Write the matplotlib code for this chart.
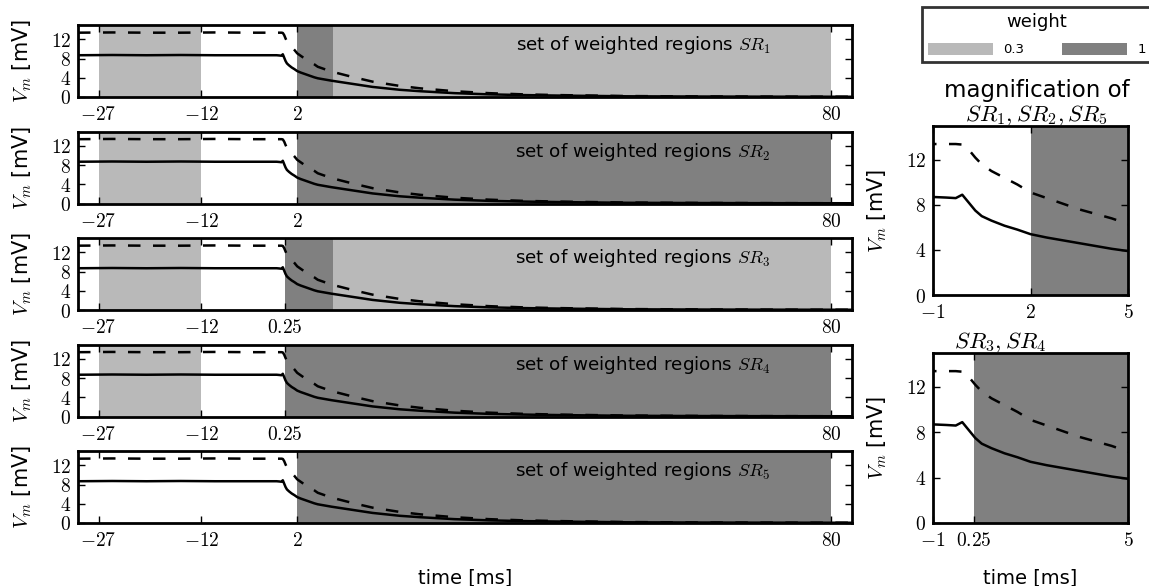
import matplotlib
matplotlib.use("Agg")
import matplotlib.pyplot as plt
from matplotlib.patches import Patch

plt.rcParams["mathtext.fontset"] = "cm"
plt.rcParams["font.family"] = ["DejaVu Sans"]
plt.rcParams["font.size"] = 13.5

# --- data -------------------------------------------------------------
# membrane potential traces (time in ms, voltage in mV)
t_ms = [-30, -25, -20, -15, -10, -5, -1, -0.6, -0.3, -0.1, 0.1, 0.3, 0.5,
        0.8, 1.2, 1.6, 2.0, 2.5, 3.0, 3.5, 4.0, 4.5, 5.0, 7, 10, 13, 17,
        20, 25, 30, 35, 40, 50, 60, 70, 83]
v_solid = [8.7, 8.75, 8.7, 8.75, 8.7, 8.7, 8.7, 8.65, 8.6, 8.9, 8.2, 7.5,
           7.0, 6.6, 6.15, 5.8, 5.4, 5.1, 4.85, 4.6, 4.35, 4.1, 3.9, 3.4,
           2.75, 2.1, 1.5, 1.2, 0.8, 0.55, 0.4, 0.3, 0.15, 0.1, 0.07, 0.05]
v_dashed = [13.4, 13.45, 13.4, 13.4, 13.45, 13.4, 13.4, 13.4, 13.4, 13.35,
            12.9, 12.2, 11.6, 11.0, 10.4, 9.8, 9.1, 8.6, 8.1, 7.6, 7.2,
            6.8, 6.3, 5.3, 4.2, 3.2, 2.3, 1.8, 1.2, 0.8, 0.55, 0.4, 0.2,
            0.12, 0.08, 0.05]

# weighted regions: (start, end, weight) for each set
region_names = ["$SR_1$", "$SR_2$", "$SR_3$", "$SR_4$", "$SR_5$"]
region_sets = [
    [(-27, -12, 0.3), (2, 7.25, 1), (7.25, 80, 0.3)],
    [(-27, -12, 0.3), (2, 80, 1)],
    [(-27, -12, 0.3), (0.25, 7.25, 1), (7.25, 80, 0.3)],
    [(-27, -12, 0.3), (0.25, 80, 1)],
    [(2, 80, 1)],
]
xtick_sets = [
    [-27, -12, 2, 80],
    [-27, -12, 2, 80],
    [-27, -12, 0.25, 80],
    [-27, -12, 0.25, 80],
    [-27, -12, 2, 80],
]
zoom_titles = ["magnification of\n$SR_1,SR_2,SR_5$", "$SR_3,SR_4$"]
zoom_title_x = [0.53, 0.345]
zoom_regions = [[(2, 5, 1)], [(0.25, 5, 1)]]
zoom_xticks = [[-1, 2, 5], [-1, 0.25, 5]]
yticks = [0, 4, 8, 12]
weights = [0.3, 1]
weight_colors = {0.3: "#b9b9b9", 1: "#808080"}


def fmt(v):
    return f"${v:g}$"


def style_axes(ax, xticks, xlim):
    ax.set_xlim(*xlim)
    ax.set_ylim(0, 15)
    ax.set_xticks(xticks)
    ax.set_xticklabels([fmt(v) for v in xticks])
    ax.set_yticks(yticks)
    ax.set_yticklabels([fmt(v) for v in yticks])
    ax.tick_params(direction="in", top=True, right=True, length=5,
                   width=1, labelsize=14)
    ax.tick_params(axis="x", pad=6)
    ax.tick_params(axis="y", pad=5)
    for sp in ax.spines.values():
        sp.set_linewidth(2)


def draw_traces(ax):
    ax.plot(t_ms, v_solid, color="black", lw=1.8, zorder=3)
    ax.plot(t_ms, v_dashed, color="black", lw=1.8, dashes=(5, 5), zorder=3)


def draw_regions(ax, regions):
    for a, b, w in regions:
        ax.axvspan(a, b, color=weight_colors[w], lw=0, zorder=1)


W, H = 1149, 586
fig = plt.figure(figsize=(W / 100, H / 100), dpi=100)

left_x0, left_w = 78 / W, (852 - 78) / W
panel_h = 72
for i in range(5):
    top = 25 + i * 106.5
    ax = fig.add_axes([left_x0, 1 - (top + panel_h) / H, left_w, panel_h / H])
    draw_regions(ax, region_sets[i])
    draw_traces(ax)
    style_axes(ax, xtick_sets[i], (-30, 83))
    ax.text(0.73, 0.72, "set of weighted regions " + region_names[i],
            transform=ax.transAxes, ha="center", va="center", fontsize=13.2,
            zorder=4)
    ax.set_ylabel("$V_m$ [mV]", fontsize=15, labelpad=12)
    if i == 4:
        ax.set_xlabel("time [ms]", fontsize=14, labelpad=13)

zoom_boxes = [(126, 295), (353, 523)]
for j in range(2):
    top, bot = zoom_boxes[j]
    ax = fig.add_axes([933 / W, 1 - bot / H, 195 / W, (bot - top) / H])
    draw_regions(ax, zoom_regions[j])
    draw_traces(ax)
    style_axes(ax, zoom_xticks[j], (-1, 5))
    ax.set_title(zoom_titles[j], fontsize=16.5, pad=4, linespacing=1.0,
                 x=zoom_title_x[j])
    ax.set_ylabel("$V_m$ [mV]", fontsize=15, labelpad=12)
    if j == 1:
        ax.set_xlabel("time [ms]", fontsize=14, labelpad=13)

handles = [Patch(facecolor=weight_colors[w], edgecolor="none", label=f"{w:g}")
           for w in weights]
leg = fig.legend(handles=handles, title="weight", ncol=2,
                 loc="upper left", bbox_to_anchor=(922 / W, 1 - 7 / H),
                 fontsize=9.5, title_fontsize=13, frameon=True, fancybox=False,
                 edgecolor="black", handlelength=4.9, handleheight=1.0,
                 columnspacing=2.9, borderpad=0.45, labelspacing=0.9,
                 handletextpad=0.8, borderaxespad=0)
leg.get_frame().set_linewidth(2)

fig.savefig("out.png", dpi=100)
